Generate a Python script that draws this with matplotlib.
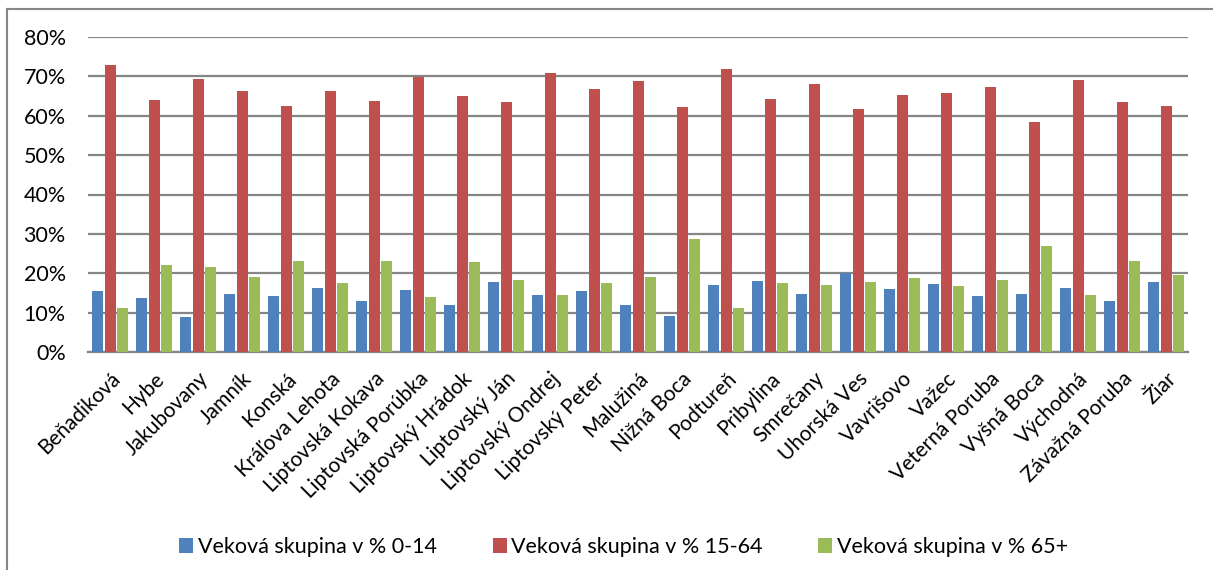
import numpy as np
import matplotlib
matplotlib.use("Agg")
from matplotlib import pyplot as plt
from matplotlib.lines import Line2D

plt.rcParams['font.family'] = ['Lato', 'DejaVu Sans']

# obce a podiely vekovych skupin (%)
obce = ["Beňadiková", "Hybe", "Jakubovany", "Jamník", "Konská", "Kráľova Lehota",
        "Liptovská Kokava", "Liptovská Porúbka", "Liptovský Hrádok", "Liptovský Ján",
        "Liptovský Ondrej", "Liptovský Peter", "Malužiná", "Nižná Boca", "Podtureň",
        "Pribylina", "Smrečany", "Uhorská Ves", "Vavrišovo", "Važec", "Veterná Poruba",
        "Vyšná Boca", "Východná", "Závažná Poruba", "Žiar"]

skupina_0_14 = [15.5, 13.6, 8.8, 14.7, 14.2, 16.2, 13.0, 15.8, 11.9, 17.9, 14.5, 15.4, 12.0,
                9.1, 16.9, 18.0, 14.8, 20.0, 16.0, 17.2, 14.1, 14.7, 16.2, 12.9, 17.9]
skupina_15_64 = [72.8, 64.0, 69.3, 66.2, 62.5, 66.2, 63.8, 69.9, 65.1, 63.5, 70.8, 66.8, 68.8,
                 62.1, 71.9, 64.3, 68.1, 61.8, 65.2, 65.8, 67.2, 58.3, 69.2, 63.6, 62.4]
skupina_65 = [11.3, 22.1, 21.5, 19.0, 23.1, 17.5, 23.0, 14.0, 22.8, 18.3, 14.5, 17.4, 19.0,
              28.7, 11.1, 17.5, 16.9, 17.8, 18.7, 16.8, 18.4, 26.8, 14.4, 23.2, 19.5]

nazvy = ["Veková skupina v % 0-14", "Veková skupina v % 15-64", "Veková skupina v % 65+"]
farby = ["#4F81BD", "#C0504D", "#9BBB59"]

fig = plt.figure(figsize=(12.13, 5.70), dpi=100)
ax = fig.add_axes([88 / 1213, 1 - 352 / 570, 1100 / 1213, 315 / 570])

x = np.arange(len(obce))
w = 0.25
for i, (vals, c, n) in enumerate(zip([skupina_0_14, skupina_15_64, skupina_65], farby, nazvy)):
    ax.bar(x + (i - 1) * 0.295, np.array(vals) / 100, w, color=c, label=n, zorder=3)

ax.set_xlim(-0.5, len(obce) - 0.5)
ax.set_ylim(0, 0.8)
ax.set_yticks(np.arange(0, 0.81, 0.1))
ax.set_yticklabels([f"{int(round(v * 100))}%" for v in np.arange(0, 0.81, 0.1)], fontsize=15.5)
ax.yaxis.grid(True, color="#868686", linewidth=1.6, zorder=0)
ax.set_xticks(x)
ax.set_xticklabels(obce, rotation=45, ha="right", rotation_mode="anchor", fontsize=15)
ax.tick_params(axis="y", length=0, pad=16)
ax.tick_params(axis="x", length=0, pad=12)
for s in ["top", "right", "left"]:
    ax.spines[s].set_visible(False)
ax.spines["bottom"].set_color("#868686")
ax.spines["bottom"].set_linewidth(1.6)

fig.legend(loc="center", bbox_to_anchor=(0.514, 1 - 547 / 570), ncol=3, frameon=False,
           fontsize=15.5, handlelength=0.65, handleheight=0.65, handletextpad=0.2,
           columnspacing=2.6)

# ramik grafu
fig.add_artist(Line2D([7 / 1213, 1], [1 - 8.5 / 570] * 2, color="#868686", linewidth=1.5,
                      transform=fig.transFigure))
fig.add_artist(Line2D([7 / 1213] * 2, [0, 1 - 8.5 / 570], color="#868686", linewidth=1.5,
                      transform=fig.transFigure))

fig.savefig("out.png", dpi=100)
